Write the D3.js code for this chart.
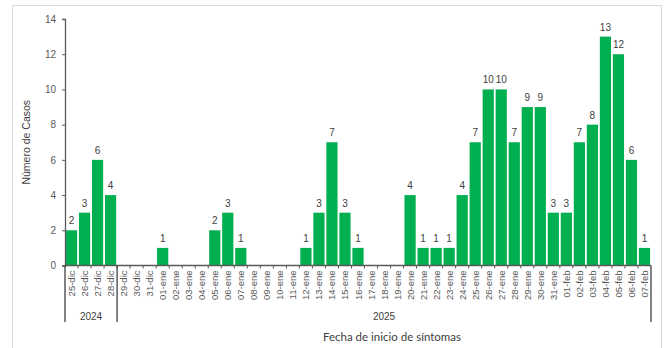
<!DOCTYPE html>
<meta charset="utf-8">
<style>
    body { margin: 0; background: #fff; }
    svg { display: block; font-family: 'Liberation Sans', Arial, sans-serif; }
</style>
<body>
<div id="chart"></div>
<script src="https://d3js.org/d3.v7.min.js"></script>
<script>
    // dates (tick labels) and cases per day
    var days = ['25-dic', '26-dic', '27-dic', '28-dic', '29-dic', '30-dic', '31-dic',
        '01-ene', '02-ene', '03-ene', '04-ene', '05-ene', '06-ene', '07-ene', '08-ene', '09-ene',
        '10-ene', '11-ene', '12-ene', '13-ene', '14-ene', '15-ene', '16-ene', '17-ene', '18-ene',
        '19-ene', '20-ene', '21-ene', '22-ene', '23-ene', '24-ene', '25-ene', '26-ene', '27-ene',
        '28-ene', '29-ene', '30-ene', '31-ene', '01-feb', '02-feb', '03-feb', '04-feb', '05-feb',
        '06-feb', '07-feb']
    var cases = [2, 3, 6, 4, 0, 0, 0,
        1, 0, 0, 0, 2, 3, 1, 0, 0,
        0, 0, 1, 3, 7, 3, 1, 0, 0,
        0, 4, 1, 1, 1, 4, 7, 10, 10,
        7, 9, 9, 3, 3, 7, 8, 13, 12,
        6, 1]
    // year groups: label, first day, last day
    var years = [
        { year: '2024', from: '25-dic', to: '28-dic' },
        { year: '2025', from: '29-dic', to: '07-feb' }
    ]
    var yTicks = [0, 2, 4, 6, 8, 10, 12, 14]

    var width = 666, height = 348
    var plotLeft = 65, plotRight = 651, plotTop = 19, plotBottom = 265.5

    var svg = d3.select('#chart').append('svg')
        .attr('width', width)
        .attr('height', height)

    // light frame round the chart
    svg.append('rect')
        .attr('x', 12.5).attr('y', 5.5)
        .attr('width', 649).attr('height', 350)
        .style('fill', 'none')
        .style('stroke', '#d9d9d9')

    var x = d3.scaleBand()
        .domain(days)
        .range([plotLeft, plotRight])
        .paddingInner(0.14)
        .paddingOuter(0.07)
    var y = d3.scaleLinear()
        .domain([0, 14])
        .range([plotBottom, plotTop])

    var data = days.map(function (d, i) { return { day: d, n: cases[i] } })
    var step = x.step()
    var gap = step * x.paddingInner() / 2

    // bars
    svg.selectAll('rect.bar')
        .data(data)
        .enter().append('rect')
        .attr('class', 'bar')
        .attr('x', function (d) { return x(d.day) })
        .attr('width', x.bandwidth())
        .attr('y', function (d) { return y(d.n) })
        .attr('height', function (d) { return y(0) - y(d.n) })
        .style('fill', '#00b050')

    // value labels
    svg.selectAll('text.val')
        .data(data.filter(function (d) { return d.n > 0 }))
        .enter().append('text')
        .attr('class', 'val')
        .attr('x', function (d) { return x(d.day) + x.bandwidth() / 2 })
        .attr('y', function (d) { return y(d.n) - 6 })
        .attr('text-anchor', 'middle')
        .style('font-size', '10px')
        .style('fill', '#404040')
        .text(function (d) { return d.n })

    // y axis
    var gy = svg.append('g')
        .attr('transform', 'translate(' + plotLeft + ',0)')
        .call(d3.axisLeft(y).tickValues(yTicks).tickSize(3).tickPadding(6))
    gy.select('.domain').style('stroke', '#595959').style('stroke-width', 1.3)
    gy.selectAll('.tick line').style('stroke', '#595959')
    gy.selectAll('.tick text').style('font-size', '10px').style('fill', '#595959')

    svg.append('text')
        .attr('transform', 'translate(30,' + ((plotTop + plotBottom) / 2) + ') rotate(-90)')
        .attr('text-anchor', 'middle')
        .style('font-size', '10.5px')
        .style('fill', '#404040')
        .text('Número de Casos')

    // x axis with ticks at band edges
    svg.append('line')
        .attr('x1', plotLeft).attr('x2', plotRight)
        .attr('y1', plotBottom).attr('y2', plotBottom)
        .style('stroke', '#595959').style('stroke-width', 1.3)
    svg.selectAll('line.xtick')
        .data(days.slice(1))
        .enter().append('line')
        .attr('class', 'xtick')
        .attr('x1', function (d) { return x(d) - gap })
        .attr('x2', function (d) { return x(d) - gap })
        .attr('y1', plotBottom).attr('y2', plotBottom + 3)
        .style('stroke', '#595959')

    svg.selectAll('text.day')
        .data(days)
        .enter().append('text')
        .attr('class', 'day')
        .attr('transform', function (d) {
            return 'translate(' + (x(d) + x.bandwidth() / 2 + 3.5) + ',' + (plotBottom + 5) + ') rotate(-90)'
        })
        .attr('text-anchor', 'end')
        .style('font-size', '9.5px')
        .style('fill', '#595959')
        .text(function (d) { return d })

    // year separators and labels
    var edges = [plotLeft]
    years.forEach(function (g) {
        var end = x(g.to) + x.bandwidth() + gap
        edges.push(g.to === days[days.length - 1] ? plotRight : end)
    })
    svg.selectAll('line.sep')
        .data(edges)
        .enter().append('line')
        .attr('class', 'sep')
        .attr('x1', function (d) { return d }).attr('x2', function (d) { return d })
        .attr('y1', plotBottom).attr('y2', 322)
        .style('stroke', '#404040').style('stroke-width', 1.3)

    svg.selectAll('text.year')
        .data(years)
        .enter().append('text')
        .attr('class', 'year')
        .attr('x', function (g, i) { return (edges[i] + edges[i + 1]) / 2 })
        .attr('y', 320)
        .attr('text-anchor', 'middle')
        .style('font-size', '10px')
        .style('fill', '#404040')
        .text(function (g) { return g.year })

    svg.append('text')
        .attr('x', 392)
        .attr('y', 341)
        .attr('text-anchor', 'middle')
        .style('font-family', 'Lato, sans-serif')
        .style('font-size', '11.5px')
        .style('fill', '#404040')
        .text('Fecha de inicio de síntomas')
</script>
</body>
